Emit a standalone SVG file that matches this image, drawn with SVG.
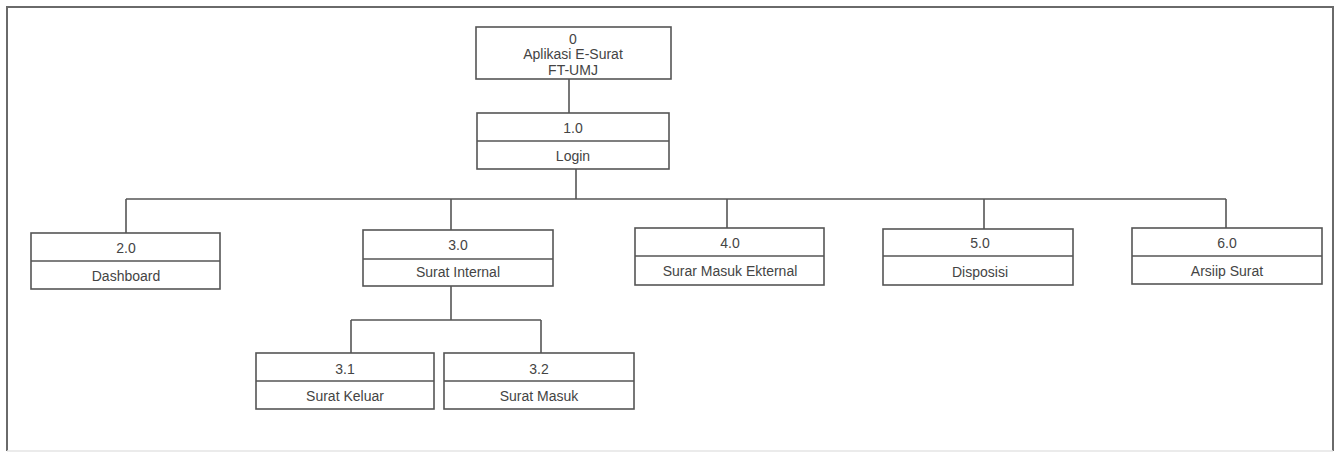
<svg xmlns="http://www.w3.org/2000/svg" width="1336" height="452" viewBox="0 0 1336 452">
  <style>
    .frame { fill: none; stroke: #6a6a6a; stroke-width: 2; }
    .frame-bottom { fill: none; stroke: #e4e4e4; stroke-width: 1.5; }
    .box { fill: #ffffff; stroke: #555555; stroke-width: 1.6; }
    .div { stroke: #555555; stroke-width: 1.6; }
    .link { fill: none; stroke: #555555; stroke-width: 1.6; }
    .lbl { font-family: "Liberation Sans", Arial, sans-serif; font-size: 14px; fill: #444444; text-anchor: middle; }
  </style>

  <rect x="0" y="0" width="1336" height="452" fill="#ffffff"/>

  <!-- outer frame -->
  <path class="frame" d="M7,451 L7,7 L1333,7 L1333,451"/>
  <path class="frame-bottom" d="M7,451 L1333,451"/>

  <!-- connectors -->
  <g id="connectors">
    <path class="link" d="M569,79 L569,113"/>
    <path class="link" d="M576,169 L576,199"/>
    <path class="link" d="M126,199 L1226,199"/>
    <path class="link" d="M126,199 L126,233"/>
    <path class="link" d="M451,199 L451,230"/>
    <path class="link" d="M727,199 L727,228"/>
    <path class="link" d="M984,199 L984,229"/>
    <path class="link" d="M1226,199 L1226,228"/>
    <path class="link" d="M451,286 L451,320"/>
    <path class="link" d="M351,320 L541,320"/>
    <path class="link" d="M351,320 L351,353"/>
    <path class="link" d="M541,320 L541,353"/>
  </g>

  <!-- 0: root -->
  <g id="node-0">
    <rect class="box" x="476" y="27" width="195" height="52"/>
    <text class="lbl" x="573" y="44">0</text>
    <text class="lbl" x="573" y="59" font-size="14.5">Aplikasi E-Surat</text>
    <text class="lbl" x="573" y="75">FT-UMJ</text>
  </g>

  <!-- 1.0 Login -->
  <g id="node-1-0">
    <rect class="box" x="477" y="113" width="192" height="56"/>
    <line class="div" x1="477" y1="141" x2="669" y2="141"/>
    <text class="lbl" x="573" y="133">1.0</text>
    <text class="lbl" x="573" y="161">Login</text>
  </g>

  <!-- 2.0 Dashboard -->
  <g id="node-2-0">
    <rect class="box" x="31" y="233" width="189" height="56"/>
    <line class="div" x1="31" y1="261" x2="220" y2="261"/>
    <text class="lbl" x="126" y="253">2.0</text>
    <text class="lbl" x="126" y="281">Dashboard</text>
  </g>

  <!-- 3.0 Surat Internal -->
  <g id="node-3-0">
    <rect class="box" x="363" y="230" width="190" height="56"/>
    <line class="div" x1="363" y1="259" x2="553" y2="259"/>
    <text class="lbl" x="458" y="250">3.0</text>
    <text class="lbl" x="458" y="277">Surat Internal</text>
  </g>

  <!-- 4.0 Surar Masuk Ekternal -->
  <g id="node-4-0">
    <rect class="box" x="635" y="228" width="189" height="57"/>
    <line class="div" x1="635" y1="256" x2="824" y2="256"/>
    <text class="lbl" x="730" y="248">4.0</text>
    <text class="lbl" x="730" y="276">Surar Masuk Ekternal</text>
  </g>

  <!-- 5.0 Disposisi -->
  <g id="node-5-0">
    <rect class="box" x="883" y="229" width="190" height="56"/>
    <line class="div" x1="883" y1="256" x2="1073" y2="256"/>
    <text class="lbl" x="980" y="248">5.0</text>
    <text class="lbl" x="980" y="277">Disposisi</text>
  </g>

  <!-- 6.0 Arsiip Surat -->
  <g id="node-6-0">
    <rect class="box" x="1132" y="228" width="190" height="56"/>
    <line class="div" x1="1132" y1="256" x2="1322" y2="256"/>
    <text class="lbl" x="1227" y="248">6.0</text>
    <text class="lbl" x="1227" y="276">Arsiip Surat</text>
  </g>

  <!-- 3.1 Surat Keluar -->
  <g id="node-3-1">
    <rect class="box" x="256" y="353" width="178" height="56"/>
    <line class="div" x1="256" y1="381" x2="434" y2="381"/>
    <text class="lbl" x="345" y="374">3.1</text>
    <text class="lbl" x="345" y="401">Surat Keluar</text>
  </g>

  <!-- 3.2 Surat Masuk -->
  <g id="node-3-2">
    <rect class="box" x="444" y="353" width="190" height="56"/>
    <line class="div" x1="444" y1="381" x2="634" y2="381"/>
    <text class="lbl" x="539" y="374">3.2</text>
    <text class="lbl" x="539" y="401">Surat Masuk</text>
  </g>
</svg>
